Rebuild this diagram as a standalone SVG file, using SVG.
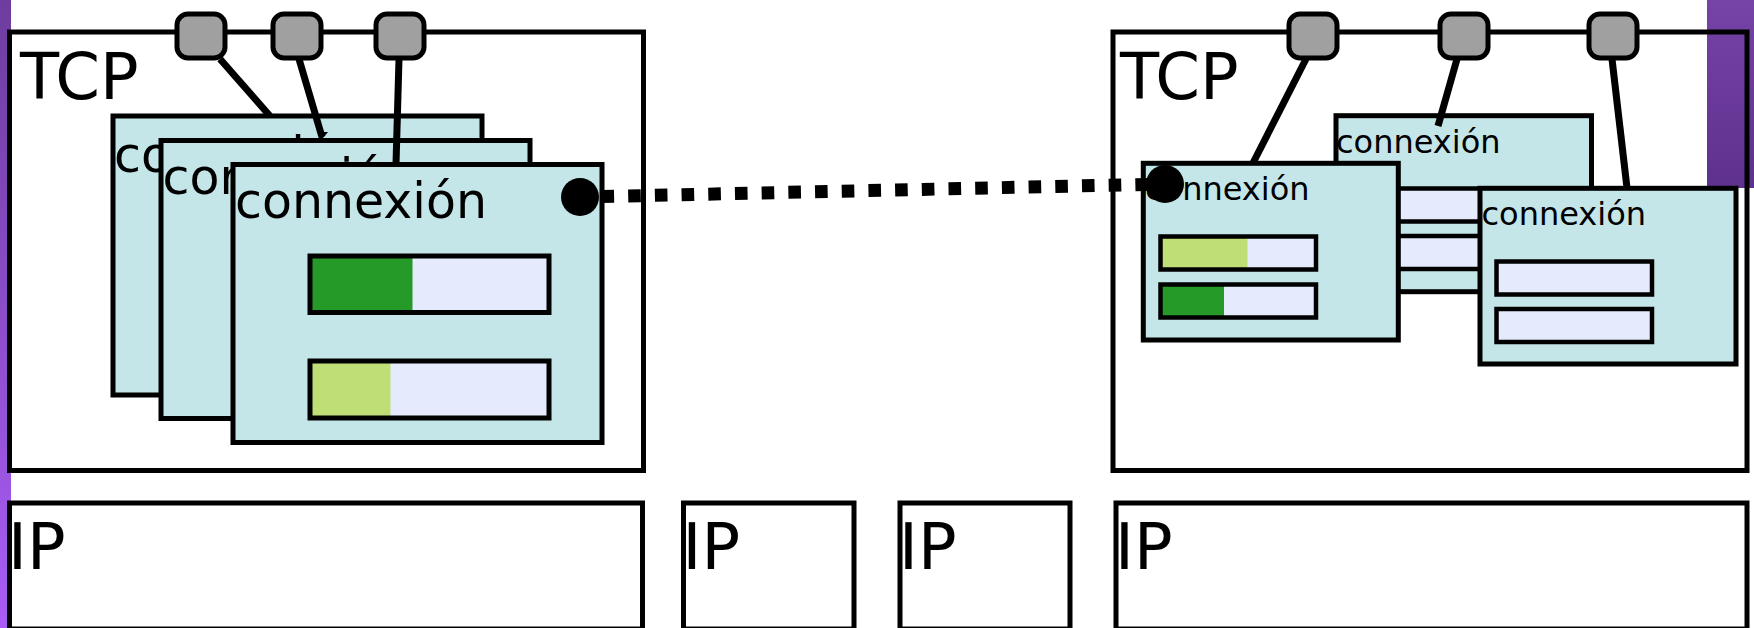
<svg xmlns="http://www.w3.org/2000/svg" width="1754" height="628" viewBox="0 0 1754 628">
<defs>
<linearGradient id="gLeft" x1="0" y1="0" x2="0" y2="1">
<stop offset="0" stop-color="#6e3d9e"/>
<stop offset="1" stop-color="#aa5cf6"/>
</linearGradient>
<linearGradient id="gRight" x1="0" y1="0" x2="0" y2="1">
<stop offset="0" stop-color="#7643a7"/>
<stop offset="1" stop-color="#5f318e"/>
</linearGradient>
<style>
.layer{fill:none;stroke:#000;stroke-width:5}
.big{font-family:"DejaVu Sans",sans-serif;font-size:64px;fill:#000}
.conn{fill:#c4e6e8;stroke:#000;stroke-width:5}
.lbl{font-family:"DejaVu Sans",sans-serif;font-size:49px;fill:#000}
.lbls{font-family:"DejaVu Sans",sans-serif;font-size:32px;fill:#000}
.bar{fill:#e5ebfc}
.barline{fill:none;stroke:#000;stroke-width:5}
.barline2{fill:none;stroke:#000;stroke-width:4.5}
.dark{fill:#259a29}
.light{fill:#bfde76}
.port{fill:#a0a0a0;stroke:#000;stroke-width:5}
.wire{stroke:#000;stroke-width:7;fill:none}
.dots{stroke:#000;stroke-width:13;fill:none;stroke-dasharray:12.6 14.1;stroke-dashoffset:5.2}
</style>
</defs>
<rect width="1754" height="628" fill="#fff"/>
<rect x="0" y="0" width="11" height="628" fill="url(#gLeft)"/>
<rect x="1707" y="0" width="47" height="188" fill="url(#gRight)"/>

<g id="tcp-left">
<rect class="layer" x="9.5" y="32" width="634" height="438.5"/>
<text class="big" x="20" y="99">TCP</text>
</g>
<g id="tcp-right">
<rect class="layer" x="1113" y="32" width="634" height="438.5"/>
<text class="big" x="1120" y="99">TCP</text>
</g>

<g id="ip-1">
<rect class="layer" x="9.5" y="503" width="633" height="126"/>
<text class="big" x="8" y="569">IP</text>
</g>
<g id="ip-2">
<rect class="layer" x="683.5" y="503" width="170.5" height="126"/>
<text class="big" x="682.5" y="569">IP</text>
</g>
<g id="ip-3">
<rect class="layer" x="900" y="503" width="170" height="126"/>
<text class="big" x="899" y="569">IP</text>
</g>
<g id="ip-4">
<rect class="layer" x="1116" y="503" width="631" height="126"/>
<text class="big" x="1115" y="569">IP</text>
</g>

<g id="ports-left">
<rect class="port" x="177" y="14" width="48" height="44" rx="11"/>
<rect class="port" x="273" y="14" width="48" height="44" rx="11"/>
<rect class="port" x="376" y="14" width="48" height="44" rx="11"/>
</g>
<g id="ports-right">
<rect class="port" x="1289" y="14" width="48" height="44" rx="11"/>
<rect class="port" x="1440" y="14" width="48" height="44" rx="11"/>
<rect class="port" x="1589" y="14" width="48" height="44" rx="11"/>
</g>

<g id="conn-left-1">
<rect class="conn" x="113" y="116" width="369" height="279"/>
<text class="lbl" x="114" y="172">connexión</text>
</g>
<g id="conn-left-2">
<rect class="conn" x="161" y="140.5" width="369" height="278"/>
<text class="lbl" x="162.5" y="194">connexión</text>
</g>
<g id="conn-left-3">
<rect class="conn" x="233" y="164.5" width="369" height="278"/>
<text class="lbl" x="235" y="218">connexión</text>
<rect class="bar" x="310" y="256" width="239" height="56.5"/>
<rect class="dark" x="310" y="256" width="102.5" height="56.5"/>
<rect class="barline" x="310" y="256" width="239" height="56.5"/>
<rect class="bar" x="310" y="361" width="239" height="57"/>
<rect class="light" x="310" y="361" width="80.5" height="57"/>
<rect class="barline" x="310" y="361" width="239" height="57"/>
</g>

<g id="conn-right-b">
<rect class="conn" x="1336" y="115.7" width="255.5" height="176"/>
<text class="lbls" x="1336" y="153">connexión</text>
<rect class="bar" x="1352.5" y="188.5" width="155.5" height="33"/>
<rect class="barline2" x="1352.5" y="188.5" width="155.5" height="33"/>
<rect class="bar" x="1352.5" y="236" width="155.5" height="33"/>
<rect class="barline2" x="1352.5" y="236" width="155.5" height="33"/>
</g>
<g id="conn-right-a">
<rect class="conn" x="1143.3" y="163.3" width="255" height="176.7"/>
<text class="lbls" x="1145" y="200">connexión</text>
<rect class="bar" x="1160.5" y="236.5" width="155.5" height="33"/>
<rect class="light" x="1160.5" y="236.5" width="87" height="33"/>
<rect class="barline2" x="1160.5" y="236.5" width="155.5" height="33"/>
<rect class="bar" x="1160.5" y="284.5" width="155.5" height="33"/>
<rect class="dark" x="1160.5" y="284.5" width="63.5" height="33"/>
<rect class="barline2" x="1160.5" y="284.5" width="155.5" height="33"/>
</g>
<g id="conn-right-c">
<rect class="conn" x="1480" y="188.3" width="256" height="175.7"/>
<text class="lbls" x="1481.5" y="225">connexión</text>
<rect class="bar" x="1496.5" y="261.5" width="155.5" height="33"/>
<rect class="barline2" x="1496.5" y="261.5" width="155.5" height="33"/>
<rect class="bar" x="1496.5" y="309" width="155.5" height="33"/>
<rect class="barline2" x="1496.5" y="309" width="155.5" height="33"/>
</g>

<g id="connectors">
<line class="wire" x1="220" y1="59" x2="270" y2="116"/>
<line class="wire" x1="299" y1="59" x2="322" y2="137"/>
<line class="wire" x1="399" y1="59" x2="396" y2="164"/>
<line class="wire" x1="1306" y1="59" x2="1253" y2="163"/>
<line class="wire" x1="1457" y1="59" x2="1438" y2="126"/>
<line class="wire" x1="1612" y1="59" x2="1627" y2="188"/>
<line class="dots" x1="580" y1="197" x2="1165" y2="184"/>
<circle cx="580" cy="197" r="19" fill="#000"/>
<circle cx="1165" cy="184" r="19" fill="#000"/>
</g>
</svg>
